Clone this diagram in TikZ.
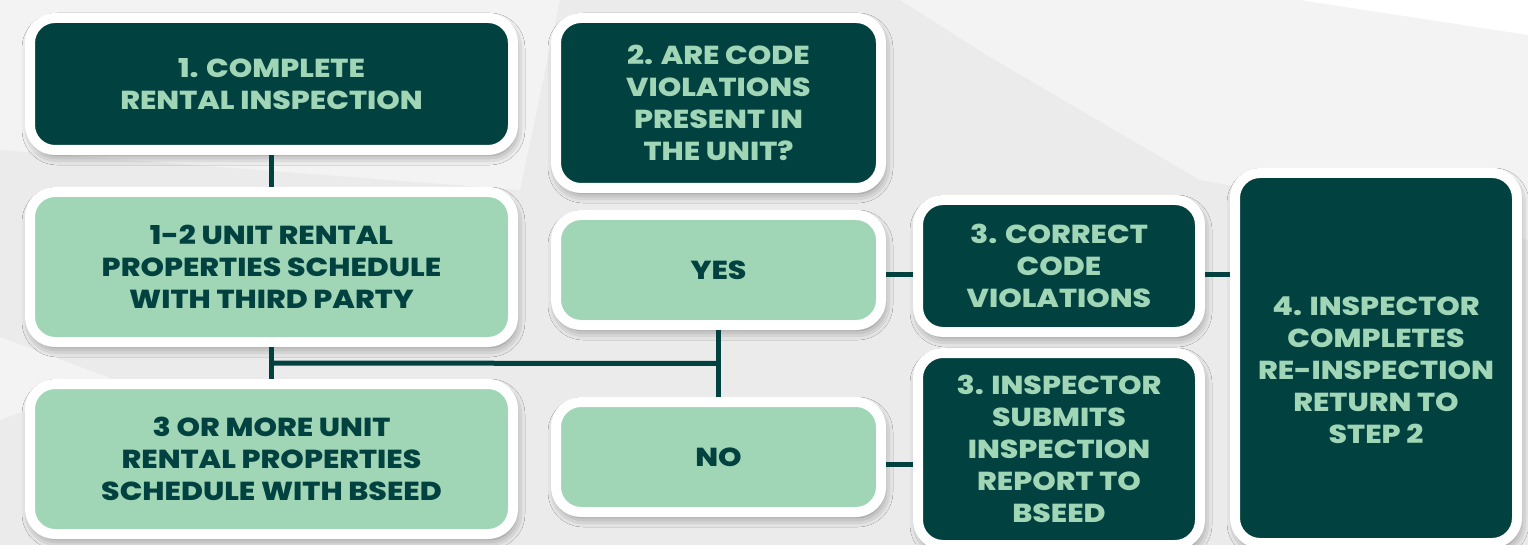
\documentclass[tikz,border=0pt]{standalone}
\usepackage{fontspec}
\setmainfont{Poppins}[BoldFont={Poppins ExtraBold}, BoldFeatures={FakeStretch=1.15}]
\usetikzlibrary{positioning, calc, shadows.blur}
\definecolor{tealdark}{HTML}{01413F}
\definecolor{mintgreen}{HTML}{A0D5B6}
\definecolor{bggray}{HTML}{EBEBEB}
\definecolor{bglight}{HTML}{F3F3F3}

\begin{document}
\begin{tikzpicture}[x=1pt, y=-1pt,
    box/.style={draw=white, line width=10pt, rounded corners=25pt, inner sep=0pt,
        align=center, font=\fontsize{26}{32}\selectfont\bfseries,
        blur shadow={shadow xshift=2pt, shadow yshift=-5pt, shadow blur radius=10pt, shadow opacity=50}},
    darkbox/.style={box, fill=tealdark, text=mintgreen},
    lightbox/.style={box, fill=mintgreen, text=tealdark},
    link/.style={draw=tealdark, line width=5pt}]
    \useasboundingbox (0,0) rectangle (1528,545);
    % Background
    \fill[bggray] (0,0) rectangle (1528,545);
    \fill[bglight] (900,0) -- (1528,0) -- (1528,240) -- (1200,180) -- (990,57) -- cycle;
    \fill[white] (1300,0) -- (1528,0) -- (1528,35) -- cycle;
    \fill[bglight] (0,0) -- (560,0) -- (520,190) -- (0,150) -- cycle;
    \fill[bglight] (0,337) -- (110,378) -- (0,420) -- cycle;
    % Left column
    \node[darkbox, minimum width=483pt, minimum height=132pt] (inspect) at (271.5,84)
        {1. COMPLETE\\RENTAL INSPECTION};
    \node[lightbox, minimum width=483pt, minimum height=150pt] (small) at (271.5,267)
        {1-2 UNIT RENTAL\\PROPERTIES SCHEDULE\\WITH THIRD PARTY};
    \node[lightbox, minimum width=483pt, minimum height=150pt] (large) at (271.5,459)
        {3 OR MORE UNIT\\RENTAL PROPERTIES\\SCHEDULE WITH BSEED};
    % Question and answers
    \node[darkbox, minimum width=325pt, minimum height=170pt] (question) at (718.5,103)
        {2. ARE CODE\\VIOLATIONS\\PRESENT IN\\THE UNIT?};
    \node[lightbox, minimum width=325pt, minimum height=110pt] (yes) at (718.5,270) {YES};
    \node[lightbox, minimum width=325pt, minimum height=110pt] (no) at (718.5,457) {NO};
    % Step 3 and 4
    \node[darkbox, minimum width=282pt, minimum height=132pt] (correct) at (1059,266)
        {3. CORRECT\\CODE\\VIOLATIONS};
    \node[darkbox, minimum width=282pt, minimum height=192pt] (report) at (1059,449)
        {3. INSPECTOR\\SUBMITS\\INSPECTION\\REPORT TO\\BSEED};
    \node[darkbox, minimum width=282pt, minimum height=370pt, text height=171pt] (reinspect) at (1376,358)
        {4. INSPECTOR\\COMPLETES\\RE-INSPECTION\\RETURN TO\\STEP 2};
    % Connectors
    \coordinate (jl) at ($(small.south)!.5!(large.north)$);
    \coordinate (jr) at ($(yes.south)!.5!(no.north)$);
    \coordinate (toprow) at (0,275);
    \coordinate (botrow) at (0,464);
    \draw[link] (inspect.south) -- (small.north);
    \draw[link] (small.south) -- (large.north);
    \draw[link] (yes.south) -- (no.north);
    \draw[link] (jl) -- (jr);
    \draw[link] (yes.east |- toprow) -- (correct.west |- toprow);
    \draw[link] (correct.east |- toprow) -- (reinspect.west |- toprow);
    \draw[link] (no.east |- botrow) -- (report.west |- botrow);
\end{tikzpicture}
\end{document}
